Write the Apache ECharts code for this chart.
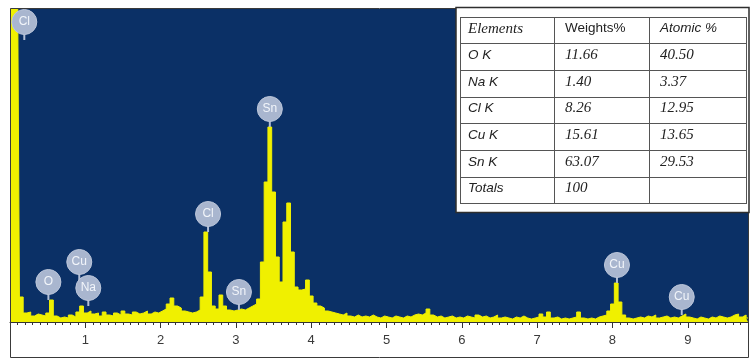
<!DOCTYPE html>
<html>
<head>
<meta charset="utf-8">
<script src="https://cdn.jsdelivr.net/npm/echarts@6/dist/echarts.min.js"></script>
<style>
html,body{margin:0;padding:0;background:#ffffff;}
#chart{width:755px;height:358px;}
</style>
</head>
<body>
<div id="chart"></div>
<script>
// Spectrum: counts per 0.05 keV channel starting at 0 keV
const energyStart = 0;
const energyStep = 0.05;
const counts = [
  3500,3500,3500,250,90,100,60,80,70,60,
  90,220,60,40,50,40,70,50,100,160,
  90,110,80,90,60,100,70,60,90,70,
  110,80,70,100,80,90,110,80,100,90,
  110,130,180,240,160,140,110,100,90,100,
  120,250,900,500,160,130,270,160,120,110,
  120,130,120,140,160,180,230,600,1400,1950,
  1300,650,400,1000,1190,700,350,320,330,420,
  260,190,160,140,110,100,90,80,70,90,
  60,50,70,50,60,50,70,50,40,60,
  50,40,60,50,40,60,50,70,80,70,
  90,130,70,50,60,40,50,60,40,50,
  40,60,50,40,70,50,60,40,50,70,
  40,50,40,30,50,40,60,40,30,40,
  50,80,50,100,40,50,30,40,30,40,
  50,100,40,30,40,30,50,60,70,110,
  180,390,200,70,40,30,40,50,40,60,
  50,70,40,50,60,40,50,40,60,80,
  50,40,30,50,40,30,50,40,60,50,
  40,50,70,80,50,70,40
];
const countsMax = 3130;

// Peak markers
const markerNames  = ['Cl','O','Cu','Na','Cl','Sn','Sn','Cu','Cu'];
const markerEnergy = [0.19,0.51,0.92,1.04,2.63,3.04,3.45,8.06,8.92];
const markerPinTop = [2820,220,420,160,900,120,1950,390,70];

// Axis
const axisMin = 0, axisMax = 9.8;

// Table
const tableHeader   = ['Elements','Weights%','Atomic %'];
const tableElements = ['O K','Na K','Cl K','Cu K','Sn K','Totals'];
const tableWeights  = ['11.66','1.40','8.26','15.61','63.07','100'];
const tableAtomic   = ['40.50','3.37','12.95','13.65','29.53',''];

const spectrum = counts.map((c, i) => [+(energyStart + i * energyStep).toFixed(2), c]);
const markers = markerNames.map((n, i) => [markerEnergy[i], markerPinTop[i], n]);

const chart = echarts.init(document.getElementById('chart'), null, {renderer: 'canvas'});

// table graphics
const serif = '"Liberation Serif","DejaVu Serif",serif';
const sans = '"Liberation Sans","DejaVu Sans",sans-serif';
const colX = [460, 554, 649, 746];
const rowY = [17, 43.3, 70, 96.7, 123.3, 150, 176.7, 203.3];
const g = [];
g.push({type:'rect', z:100, shape:{x:456, y:7.5, width:293, height:205}, style:{fill:'#ffffff', stroke:'#2e2e2e', lineWidth:1.5}});
for (const x of colX) g.push({type:'line', z:101, shape:{x1:x+0.5, y1:rowY[0], x2:x+0.5, y2:rowY[rowY.length-1]}, style:{stroke:'#555', lineWidth:1}});
for (const y of rowY) g.push({type:'line', z:101, shape:{x1:colX[0], y1:Math.round(y)+0.5, x2:colX[3]+1, y2:Math.round(y)+0.5}, style:{stroke:'#555', lineWidth:1}});
const textX = [468, 565, 660];
function cellText(txt, col, row, font) {
  const cy = (rowY[row] + rowY[row+1]) / 2 - 1.5;
  g.push({type:'text', z:102, x:textX[col], y:cy, style:{text:txt, font:font, fill:'#222', textVerticalAlign:'middle', verticalAlign:'middle', textAlign:'left', align:'left'}});
}
cellText(tableHeader[0], 0, 0, 'italic 15px ' + serif);
cellText(tableHeader[1], 1, 0, '13.5px ' + sans);
cellText(tableHeader[2], 2, 0, 'italic 13.5px ' + sans);
for (let i = 0; i < tableElements.length; i++) {
  cellText(tableElements[i], 0, i+1, 'italic 13.5px ' + sans);
  cellText(tableWeights[i], 1, i+1, 'italic 15px ' + serif);
  if (tableAtomic[i]) cellText(tableAtomic[i], 2, i+1, 'italic 15px ' + serif);
}
// outer frame
g.unshift({type:'rect', z:90, shape:{x:10.5, y:8.5, width:738, height:349}, style:{fill:null, stroke:'#3a3a3a', lineWidth:1}});

chart.setOption({
  animation: false,
  backgroundColor: '#ffffff',
  grid: {left:10, right:7, top:9, bottom:36, show:true, backgroundColor:'#0b3066', borderWidth:0},
  xAxis: {
    type:'value', min:axisMin, max:axisMax, interval:1,
    axisLine:{show:true, onZero:false, lineStyle:{color:'#333', width:1}},
    axisTick:{show:true, inside:false, length:6, lineStyle:{color:'#333'}},
    minorTick:{show:true, splitNumber:10, length:3, lineStyle:{color:'#333'}},
    splitLine:{show:false},
    axisLabel:{show:true, margin:12, color:'#3a3a3a', fontSize:13, fontFamily:sans,
      showMinLabel:false, showMaxLabel:false,
      formatter: v => (v === 0 ? '' : String(v))}
  },
  yAxis: {type:'value', min:0, max:countsMax, show:false},
  series: [
    {
      type:'line', data:spectrum, step:'middle', symbol:'none', clip:true,
      lineStyle:{color:'#f0f000', width:1},
      areaStyle:{color:'#f0f000', opacity:1},
      z:2
    },
    {
      type:'custom', data:markers, clip:false, z:5,
      encode:{x:0, y:1},
      renderItem: function(params, api) {
        const p = api.coord([api.value(0), api.value(1)]);
        const cy = p[1] - 18;
        return {type:'group', children:[
          {type:'line', shape:{x1:p[0], y1:p[1], x2:p[0], y2:cy}, style:{stroke:'#b3bfd6', lineWidth:2}},
          {type:'circle', shape:{cx:p[0], cy:cy, r:12.5}, style:{fill:'#a9b6cf', stroke:'#bcc6da', lineWidth:1}},
          {type:'text', x:p[0], y:cy, style:{text:api.value(2), fill:'#f2f5fa', font:'12px ' + sans, align:'center', verticalAlign:'middle', textAlign:'center', textVerticalAlign:'middle'}}
        ]};
      }
    }
  ],
  graphic: {elements: g}
});
</script>
</body>
</html>
